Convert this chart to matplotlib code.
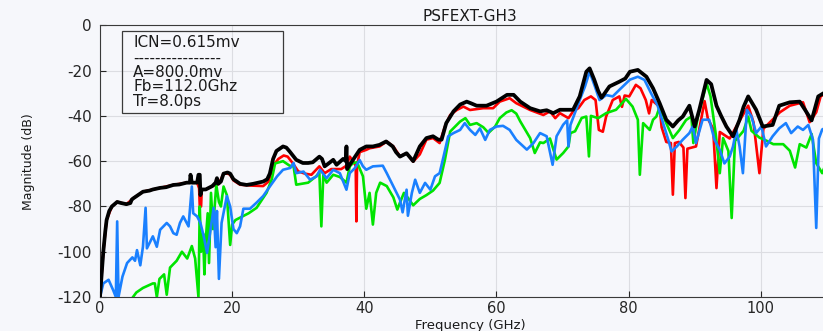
import matplotlib
matplotlib.use("Agg")
import matplotlib.pyplot as plt
from matplotlib.patches import Rectangle

plt.rcParams['axes.unicode_minus'] = False

# ---- data (GHz, dB) ----
black_f = [0.0, 0.3, 0.5, 0.8, 1.0, 1.4, 1.8, 2.6, 3.2, 4.0, 4.6, 4.8, 5.0, 6.0, 6.5, 7.5, 8.0, 9.1,
           10.0, 11.1, 12.0, 13.1, 13.6, 13.7, 13.9, 14.7, 14.9, 15.1, 15.2, 15.4, 16.0, 17.0, 17.5,
           17.7, 17.9, 18.3, 18.7, 19.3, 19.7, 20.2, 21.2, 22.2, 23.2, 24.7, 25.3, 25.7, 26.2, 26.7,
           27.7, 28.2, 28.7, 29.7, 30.7, 31.5, 32.2, 33.2, 33.6, 34.0, 34.6, 35.3, 35.8, 36.8, 37.2,
           37.3, 37.4, 37.7, 38.3, 39.3, 40.3, 41.3, 42.3, 43.3, 44.3, 44.8, 45.4, 46.4, 47.4, 48.4,
           49.4, 50.4, 51.2, 51.7, 52.4, 53.5, 54.5, 55.5, 56.2, 57.0, 58.5, 60.0, 61.6, 62.6, 63.6,
           65.1, 66.6, 67.6, 68.6, 69.6, 71.6, 72.6, 73.6, 74.1, 74.8, 75.4, 75.9, 77.1, 78.6, 79.5,
           80.2, 81.4, 82.7, 83.7, 84.7, 85.7, 86.7, 87.5, 88.2, 89.2, 90.0, 90.7, 91.8, 92.5, 93.3,
           94.0, 94.8, 95.8, 96.8, 97.4, 98.1, 99.3, 100.3, 101.8, 102.8, 104.4, 105.9, 106.7, 107.7,
           108.7, 109.5, 111.0, 112.0]
black_db = [-120, -108, -100, -91, -86, -82, -80, -78, -78.5, -79, -78.5, -77, -76.5, -74.5, -73.5,
            -73, -72.5, -71.8, -71.5, -70.5, -70.3, -69.5, -69.5, -66, -69.5, -69.5, -66, -66, -75,
            -72.5, -72.5, -71, -69.5, -67.5, -70, -69, -65.5, -65, -65.5, -68, -70, -70.5, -70, -69,
            -68, -65.5, -59, -55.5, -53.5, -54, -55.7, -59.4, -60.8, -60.8, -60.5, -58, -59, -62.3,
            -61, -59.4, -61.6, -59, -60, -53.5, -63.5, -62, -59.4, -55, -53.5, -53.5, -52.8, -51.3,
            -53.5, -56, -58, -56.5, -60, -53.5, -49.8, -49, -50.5, -50.5, -43.2, -38, -35, -33.7,
            -34.5, -35.5, -35.5, -33.7, -30.7, -30.7, -33.7, -36.6, -38, -37.5, -38.8, -37.3, -37.3,
            -31.4, -20.5, -19, -24, -29, -32, -27, -24.9, -23.5, -20.5, -19.7, -22.7, -27.8, -34.4,
            -41.7, -44.7, -42, -40.3, -35.5, -44.7, -37.3, -24.1, -26, -35.5, -40, -44.7, -49, -41.7,
            -36, -31.4, -37.3, -44.7, -44, -35.5, -34, -33.7, -37.3, -42, -31.4, -30, -31, -30]

red_f = [0.0, 0.5, 1.0, 1.8, 2.6, 4.0, 5.0, 6.5, 9.1, 11.1, 13.1, 14.7, 15.0, 15.1, 15.3, 15.4, 16.0,
         17.0, 18.0, 18.7, 19.3, 19.7, 20.2, 21.2, 23.0, 24.7, 25.5, 26.2, 27.0, 27.8, 28.4, 29.2,
         30.0, 31.0, 32.0, 33.2, 34.0, 35.0, 36.5, 37.3, 37.8, 38.3, 38.7, 38.8, 38.9, 39.3, 40.3,
         40.8, 42.3, 43.4, 44.4, 45.4, 46.4, 47.4, 48.4, 49.4, 50.4, 51.4, 52.2, 53.0, 54.0, 55.0,
         56.0, 58.0, 59.5, 60.5, 62.0, 63.0, 65.1, 67.1, 68.1, 68.9, 69.6, 70.9, 71.6, 72.4, 73.3,
         74.3, 75.0, 75.5, 76.1, 76.6, 77.6, 78.6, 79.0, 79.4, 80.1, 81.1, 81.8, 82.6, 83.1, 83.5,
         84.7, 85.0, 85.7, 86.4, 86.7, 87.0, 87.6, 88.3, 88.6, 88.9, 90.2, 91.5, 92.0, 92.8, 93.3,
         93.8, 95.3, 96.3, 98.1, 98.9, 99.8, 100.4, 101.4, 102.9, 104.4, 106.4, 107.4, 108.4, 109.1,
         110.0, 112.0]
red_db = [-120, -100, -86, -80, -78, -79, -76.5, -73.5, -71.8, -70.5, -69.5, -69.5, -72, -80, -80,
          -72.5, -72.5, -71, -70, -65.5, -65.5, -66, -68.5, -70.4, -70.8, -71, -69, -62, -59, -57.5,
          -58, -61, -64.5, -65.5, -66, -62.3, -65.3, -63.5, -63.5, -62, -58, -60, -62, -86.6, -62,
          -56, -55, -54.3, -53.5, -51.3, -53.5, -57.9, -56.5, -60.2, -57, -50.5, -49.8, -52, -44.7,
          -39.6, -37.4, -35.9, -37.4, -36.6, -36.6, -33.7, -32.2, -34.4, -37.4, -39.6, -38, -41,
          -38.8, -41, -38, -36.6, -33, -31.4, -33, -46.2, -47, -40.3, -33, -31.4, -36, -31, -31.4,
          -26.3, -27.8, -33, -38.9, -33, -36, -45, -51.5, -52, -74.8, -52, -51.5, -54, -76.3, -54.5,
          -53.5, -33.5, -41.3, -45.7, -71.9, -47.1, -50, -44.7, -35.5, -42.8, -65.3, -45.7, -42.8,
          -38.4, -35.5, -34, -42.8, -38.4, -31, -31, -30]

green_f = [5.0, 5.5, 6.5, 8.0, 8.3, 8.6, 9.0, 9.7, 10.1, 10.6, 11.6, 12.4, 13.2, 13.9, 14.4, 14.9,
           15.1, 15.3, 15.6, 15.8, 16.0, 16.3, 16.5, 16.8, 17.1, 17.6, 18.0, 18.3, 18.7, 19.2, 19.7,
           20.0, 20.5, 21.5, 22.5, 23.7, 25.2, 26.0, 26.5, 27.7, 28.7, 29.3, 29.7, 30.5, 31.5, 32.7,
           33.2, 33.5, 33.8, 34.3, 35.3, 36.3, 37.3, 37.8, 38.3, 38.9, 39.8, 40.3, 40.8, 41.3, 41.8,
           42.4, 43.4, 44.4, 45.0, 45.4, 46.0, 46.4, 47.4, 48.4, 49.4, 50.4, 51.4, 52.2, 53.0, 54.5,
           55.3, 56.0, 57.0, 58.0, 58.8, 59.8, 60.5, 61.5, 62.3, 63.0, 63.6, 65.1, 65.8, 66.6, 67.1,
           68.1, 69.1, 70.1, 70.9, 71.2, 71.9, 72.9, 73.6, 74.0, 74.3, 75.4, 76.6, 78.1, 79.6, 80.6,
           81.4, 81.7, 82.2, 83.2, 83.7, 84.2, 84.7, 85.7, 86.7, 87.7, 88.7, 89.5, 89.8, 90.5, 91.4,
           91.8, 92.4, 93.2, 93.8, 94.3, 95.1, 95.6, 96.1, 97.4, 98.1, 98.6, 99.8, 100.9, 101.9,
           103.4, 104.4, 105.2, 105.9, 106.9, 107.7, 108.4, 109.3, 110.0, 112.0]
green_db = [-120, -118, -116, -114, -114, -120, -112, -110, -119, -107, -104, -100, -103, -97.5, -103,
            -120, -80, -100, -92, -110, -95, -83, -105, -74, -90, -70.5, -78, -80, -71.2, -75, -97,
            -88, -86, -84.5, -83, -80.6, -74, -68, -61, -60, -62, -62.3, -70.4, -70, -69.5, -66.7,
            -65, -88.8, -66, -69.5, -66, -67, -69.5, -62.3, -60.8, -60.5, -66.7, -81, -74, -88, -74,
            -69.5, -71, -76, -81.4, -78.3, -74, -75.4, -79.5, -76.7, -75, -73, -69.6, -59.4, -46.9,
            -42.5, -41, -44, -43.2, -45, -47.5, -44.7, -41, -38.5, -37.5, -39, -42.4, -49.8, -56.4,
            -51.7, -52, -50, -59.3, -56.4, -53.5, -47.6, -46.8, -40.9, -40.3, -57.9, -40, -41, -38.8,
            -37.3, -32.5, -35.9, -41.7, -66, -43.2, -46.2, -41.7, -40.3, -36, -43.2, -49.8, -46.2,
            -41.8, -40.3, -52, -40, -30.3, -25.6, -31.4, -48.3, -65.3, -49.8, -55.5, -85.1, -51.1,
            -46.6, -40.3, -46.6, -49.6, -51, -52.5, -52.5, -55.4, -62.8, -52.5, -54, -48, -60.9,
            -65.3, -60, -58]

blue_f = [0.0, 0.5, 1.3, 2.0, 2.4, 2.6, 2.8, 3.4, 4.1, 4.9, 5.3, 5.6, 6.1, 6.5, 6.9, 7.1, 8.0, 8.6,
          9.1, 9.6, 10.1, 10.6, 11.1, 11.6, 12.1, 12.6, 13.4, 13.9, 14.1, 14.7, 15.2, 15.7, 16.2,
          16.5, 17.2, 17.5, 17.7, 18.0, 18.4, 19.2, 19.7, 20.2, 20.7, 21.2, 21.7, 22.7, 23.7, 24.7,
          25.7, 26.8, 27.7, 28.8, 29.3, 29.7, 30.8, 31.8, 32.8, 33.3, 34.3, 35.3, 36.3, 37.3, 37.8,
          38.6, 39.3, 39.8, 40.3, 41.3, 42.8, 43.4, 44.4, 45.4, 45.8, 46.4, 46.6, 47.2, 47.7, 48.4,
          49.2, 50.0, 50.7, 51.4, 52.0, 52.7, 53.5, 54.5, 55.2, 56.0, 56.8, 57.5, 58.3, 59.0, 60.0,
          61.0, 62.0, 63.0, 64.6, 65.6, 66.6, 67.6, 68.5, 69.1, 70.1, 70.7, 70.9, 71.2, 72.6, 73.4,
          74.1, 74.9, 75.6, 76.6, 77.6, 78.6, 80.2, 81.4, 82.4, 83.4, 84.4, 85.2, 86.0, 86.5, 87.3,
          88.2, 89.2, 89.7, 90.2, 91.2, 92.2, 93.0, 93.8, 94.5, 95.3, 95.8, 96.3, 96.8, 97.3, 97.9,
          98.6, 99.3, 100.1, 100.8, 101.8, 102.8, 103.8, 104.6, 105.6, 106.4, 107.2, 107.9, 108.4,
          108.8, 109.3, 110.0, 112.0]
blue_db = [-120, -114, -112.4, -117, -120, -86.6, -120, -111, -105, -102.5, -104, -99.3, -106, -97.8,
           -80.6, -98.5, -93.2, -97.8, -90.3, -88.8, -87.3, -88.8, -91.8, -92.5, -87.3, -84.4, -88.8,
           -71.2, -83, -84.4, -87.3, -93.2, -100.5, -95, -80.6, -98, -82, -112, -87.3, -75.4, -80,
           -90, -91.8, -88.8, -81, -81, -78.3, -75.4, -71.2, -66.7, -63.8, -63, -60.8, -65.3, -64.6,
           -68.2, -66.7, -63.8, -67.5, -63.8, -65.3, -72.6, -65.3, -63, -59.5, -62.3, -63.8, -62.3,
           -62, -65.3, -71.2, -77, -82.6, -72.6, -84.1, -74, -68.2, -74, -69.6, -72.6, -66.7, -65.3,
           -57.9, -49, -47.6, -46.2, -43.2, -46.2, -48.4, -45.5, -50.6, -46.2, -44.7, -44.4, -46.2,
           -50.6, -54.9, -52, -47.6, -49, -61.6, -49, -43.9, -42, -53.5, -44, -33, -27, -20.5, -27,
           -33, -30.8, -31.4, -28.5, -24, -22.7, -24.1, -30, -35.5, -43, -50.5, -55.7, -53.5, -50.5,
           -47.6, -44.7, -52, -41.7, -41.7, -50.5, -55, -61, -58, -53.5, -46, -53.5, -65.3, -37.3,
           -40.3, -47.6, -44.7, -53.5, -49, -45.5, -43.2, -47.6, -44.7, -46.2, -44, -50.5, -89.5,
           -50, -46, -45, -45]

x_ticks = [0, 20, 40, 60, 80, 100]
y_ticks = [-120, -100, -80, -60, -40, -20, 0]
info_lines = ["ICN=0.615mv", "-" * 16, "A=800.0mv", "Fb=112.0Ghz", "Tr=8.0ps"]

# ---- plot ----
bg = "#f6f7fb"
fig = plt.figure(figsize=(8.23, 3.31), dpi=100, facecolor=bg)
ax = fig.add_axes([0.1215, 0.1027, 0.8992, 0.8208], facecolor=bg)

ax.plot(red_f, red_db, color="#ff0000", lw=1.9, zorder=3)
ax.plot(green_f, green_db, color="#00e400", lw=1.9, zorder=3)
ax.plot(blue_f, blue_db, color="#1a80ff", lw=1.9, zorder=3)
ax.plot(black_f, black_db, color="black", lw=2.7, zorder=4)

ax.set_xlim(0, 112)
ax.set_ylim(-120, 0)
ax.set_xticks(x_ticks)
ax.set_yticks(y_ticks)
ax.grid(True, color="#dcdde2", lw=0.8)
ax.set_axisbelow(True)
ax.tick_params(direction="in", length=4, labelsize=11, colors="#262626", pad=6)
ax.tick_params(axis="x", labelsize=10.5, pad=3)
for s in ax.spines.values():
    s.set_color("#3a3a3a")
    s.set_linewidth(0.8)

ax.set_title("PSFEXT-GH3", fontsize=11, color="#1a1a1a", pad=3)
ax.set_xlabel("Frequency (GHz)", fontsize=9.5, color="#1a1a1a")
ax.xaxis.set_label_coords(0.5, -0.08)
ax.xaxis.label.set_va("top")
ax.set_ylabel("Magnitude (dB)", fontsize=9, color="#1a1a1a")
ax.yaxis.set_label_coords(-0.088, 0.5)

# info box
ax.add_patch(Rectangle((3.33, -38.7), 24.4, 36.2, fill=False, ec="#3a3a3a", lw=0.9, zorder=5))
line_y = [-7.8, -14.4, -21.0, -27.2, -33.8]
for txt, yy in zip(info_lines, line_y):
    ax.text(5.0, yy, txt, fontsize=11, va="center", ha="left", color="#1a1a1a", zorder=6)

fig.savefig("out.png", dpi=100, facecolor=bg)
